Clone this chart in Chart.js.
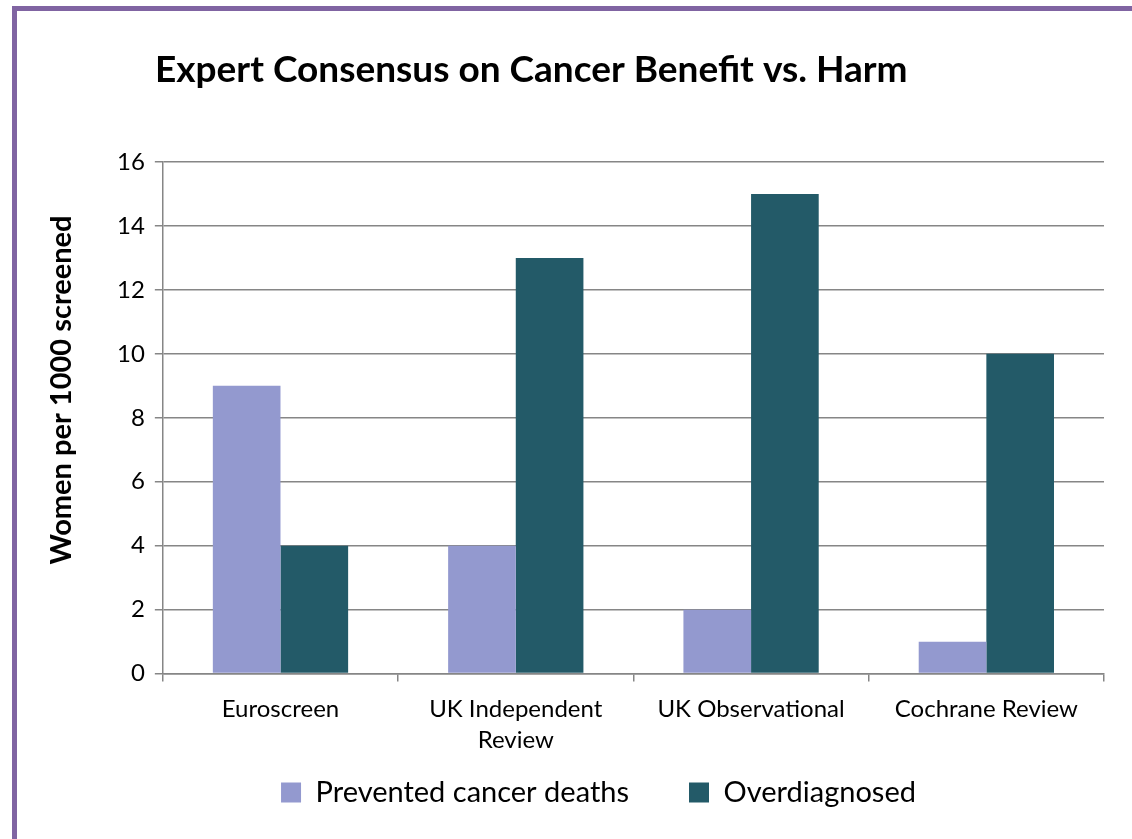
<!DOCTYPE html>
<html>
<head>
<meta charset="utf-8">
<script src="https://cdn.jsdelivr.net/npm/chart.js@4"></script>
<style>
  html, body { margin: 0; padding: 0; background: #fff; overflow: hidden; }
  #frame {
    position: absolute; left: 12px; top: 6px;
    width: 1200px; height: 900px;
    border-left: 5px solid #8064a2; border-top: 5px solid #8064a2;
  }
  #wrap { position: absolute; left: 0; top: 0; width: 1132px; height: 839px; }
</style>
</head>
<body>
<div id="frame"></div>
<div id="wrap"><canvas id="myChart"></canvas></div>
<script>
"use strict";

const chartHTML = document.querySelector("#myChart");

// Datos
const categories = ["Euroscreen", ["UK Independent", "Review"], "UK Observational", "Cochrane Review"];
const prevented = [9, 4, 2, 1];
const overdiagnosed = [4, 13, 15, 10];
const yTicks = [0, 2, 4, 6, 8, 10, 12, 14, 16];

const fontFam = "Lato, 'Open Sans', sans-serif";

// titulos dibujados a mano para poder colocarlos como en el original
const titlePlugin = {
  id: "manualTitles",
  afterLayout(chart) {
    // mover la leyenda
    chart.legend.left -= 7;
    chart.legend.right -= 7;
    chart.legend.top -= 50;
    chart.legend.bottom -= 50;
  },
  afterDraw(chart) {
    const ctx = chart.ctx;
    ctx.save();
    ctx.fillStyle = "#000";
    ctx.font = "bold 37px " + fontFam;
    ctx.textBaseline = "alphabetic";
    ctx.fillText("Expert Consensus on Cancer Benefit vs. Harm", 155, 82);
    // titulo eje Y
    ctx.translate(62, 390);
    ctx.rotate(-Math.PI / 2);
    ctx.font = "bold 29px " + fontFam;
    ctx.textAlign = "center";
    ctx.textBaseline = "middle";
    ctx.fillText("Women per 1000 screened", 0, 0);
    ctx.restore();
  },
};

const data = {
  labels: categories,
  datasets: [
    {
      label: "Prevented cancer deaths",
      backgroundColor: "#9399cf",
      data: prevented,
    },
    {
      label: "Overdiagnosed",
      backgroundColor: "#235a68",
      data: overdiagnosed,
    },
  ],
};

const config = {
  type: "bar",
  data,
  plugins: [titlePlugin],
  options: {
    responsive: false,
    animation: false,
    devicePixelRatio: 1,
    layout: { padding: { top: 162, left: 107, right: 28, bottom: -28 } },
    datasets: { bar: { categoryPercentage: 0.575, barPercentage: 1 } },
    plugins: {
      title: { display: false },
      tooltip: { enabled: false },
      legend: {
        position: "bottom",
        labels: {
          font: { family: fontFam, size: 29 },
          color: "#000",
          boxWidth: 20,
          boxHeight: 20,
          padding: 60,
        },
      },
    },
    scales: {
      x: {
        grid: { drawOnChartArea: false, color: "#868686", tickLength: 8, lineWidth: 1.5 },
        border: { color: "#868686", width: 1.5 },
        ticks: { font: { family: fontFam, size: 24, lineHeight: 1.3 }, color: "#000", padding: 12 },
      },
      y: {
        min: 0,
        max: 16,
        afterBuildTicks(axis) {
          axis.ticks = yTicks.map((v) => ({ value: v }));
        },
        grid: { color: "#868686", tickLength: 8, lineWidth: 1.5 },
        border: { color: "#868686", width: 1.5 },
        ticks: { font: { family: fontFam, size: 24 }, color: "#000", padding: 10 },
      },
    },
  },
};

chartHTML.width = 1132;
chartHTML.height = 839;
const myChart = new Chart(chartHTML, config);
</script>
</body>
</html>
